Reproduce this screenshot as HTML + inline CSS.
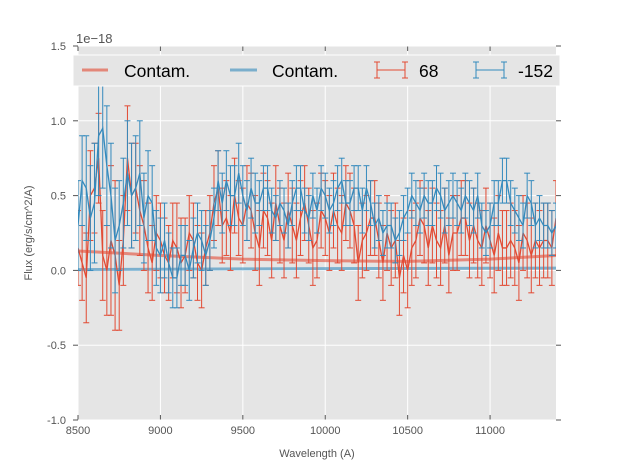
<!DOCTYPE html>
<html><head><meta charset="utf-8"><style>
body{margin:0;background:#fff;}
svg{display:block;font-family:"Liberation Sans","DejaVu Sans",sans-serif;}
</style></head><body>
<svg id="chart" width="617" height="467" viewBox="0 0 617 467"></svg>
<script>
const flux68=[0.15,0.05,-0.05,0.5,0.55,0.75,0.1,0.0,0.2,0.1,-0.1,0.2,0.75,0.5,0.55,0.4,0.3,0.15,0.05,0.25,0.2,0.1,0.05,0.2,0.15,0.05,0.1,0.25,0.2,0.05,0,0.15,0.25,0.45,0.55,0.3,0.35,0.25,0.5,0.35,0.3,0.45,0.4,0.25,0.15,0.4,0.35,0.2,0.45,0.3,0.2,0.4,0.3,0.2,0.35,0.45,0.3,0.15,0.2,0.4,0.35,0.25,0.4,0.3,0.25,0.45,0.4,0.3,0.05,0.2,0.25,0.35,0.35,0.2,0.05,0.25,0.15,0.2,-0.05,0.1,0,0.15,0.2,0.35,0.3,0.15,0.3,0.2,0.15,0.3,0.1,0.25,0.25,0.35,0.35,0.2,0.3,0.2,0.15,0.3,0.2,0.1,0.25,0.15,0.15,0.2,0.15,0.05,0.25,0.2,0.1,0.2,0.15,0.2,0.2,0.15,0.35];
const flux152=[0.3,0.6,0.55,0.35,0.45,0.9,0.95,0.7,0.5,0.2,0.3,0.45,0.65,0.5,0.55,0.65,0.35,0.5,0.45,0.15,0.1,0.2,0.05,-0.05,-0.05,0.1,0.1,0.0,0.15,0.25,0.2,0.1,0.2,0.35,0.6,0.45,0.6,0.5,0.5,0.65,0.5,0.4,0.55,0.45,0.45,0.55,0.55,0.4,0.35,0.45,0.4,0.3,0.45,0.55,0.55,0.4,0.35,0.5,0.4,0.55,0.5,0.4,0.45,0.55,0.6,0.45,0.45,0.55,0.55,0.4,0.55,0.45,0.3,0.35,0.25,0.3,0.3,0.2,0.25,0.35,0.4,0.5,0.45,0.4,0.5,0.45,0.45,0.55,0.5,0.4,0.45,0.5,0.45,0.4,0.5,0.45,0.4,0.5,0.3,0.25,0.3,0.45,0.45,0.6,0.6,0.45,0.4,0.35,0.3,0.5,0.45,0.3,0.35,0.3,0.3,0.25,0.3];
const err68=[0.25,0.3,0.3,0.3,0.5,0.3,0.35,0.3,0.3,0.25,0.25,0.25,0.3,0.25,0.25,0.25,0.25,0.25,0.25,0.25,0.25,0.25,0.25,0.25,0.25,0.25,0.25,0.25,0.25,0.25,0.25,0.25,0.25,0.25,0.25,0.25,0.25,0.25,0.25,0.25,0.25,0.25,0.25,0.25,0.25,0.25,0.25,0.25,0.25,0.25,0.25,0.25,0.25,0.25,0.25,0.25,0.25,0.25,0.25];
const err152=[0.3,0.35,0.4,0.4,0.35,0.3,0.35,0.35,0.3,0.25,0.25,0.2,0.2,0.2,0.2,0.2,0.2,0.2,0.2,0.2,0.2,0.2,0.15,0.15,0.15,0.15,0.15,0.15,0.15,0.15,0.15,0.15,0.15,0.15,0.15,0.15,0.15,0.15,0.15,0.15,0.15,0.15,0.15,0.15,0.15,0.15,0.15,0.15,0.15,0.15,0.15,0.15,0.15,0.15,0.15,0.15,0.15,0.15,0.15];
const contamWave=[8500,9000,9500,10000,10500,11000,11400];
const contam68=[0.13,0.1,0.075,0.065,0.06,0.075,0.1];
const contam152=[0.005,0.008,0.01,0.012,0.013,0.014,0.015];
const xTicks=[8500,9000,9500,10000,10500,11000];
const yTicks=[-1.0,-0.5,0.0,0.5,1.0,1.5];
const waveStart=8500, waveStep=25;

const L=78,R=556,T=46,B=420,X0=8500,X1=11400,Y0=-1,Y1=1.5;
const sx=v=>L+(v-X0)/(X1-X0)*(R-L);
const sy=v=>B-(v-Y0)/(Y1-Y0)*(B-T);
const svg=document.getElementById('chart');
const NS='http://www.w3.org/2000/svg';
function mk(tag,attrs,parent){const e=document.createElementNS(NS,tag);for(const k in attrs)e.setAttribute(k,attrs[k]);(parent||svg).appendChild(e);return e;}

const bg=mk('rect',{x:L,y:T,width:R-L,height:B-T,fill:'#e5e5e5'});


const clip=mk('clipPath',{id:'pc'});mk('rect',{x:L,y:T,width:R-L,height:B-T},clip);

xTicks.forEach(t=>{
  const g=mk('line',{x1:sx(t),x2:sx(t),y1:T,y2:B,stroke:'#fff','stroke-width':1});
  
  
  mk('line',{x1:sx(t),x2:sx(t),y1:B,y2:B-5,stroke:'#555'});
  mk('line',{x1:sx(t),x2:sx(t),y1:T,y2:T+5,stroke:'#555'});
  const tx=mk('text',{x:sx(t),y:B+14,'text-anchor':'middle','font-size':11,fill:'#555'});tx.textContent=t;
  
  
});
yTicks.forEach(t=>{
  const g=mk('line',{x1:L,x2:R,y1:sy(t),y2:sy(t),stroke:'#fff','stroke-width':1});
  
  
  mk('line',{x1:L-5,x2:L,y1:sy(t),y2:sy(t),stroke:'#555'});
  mk('line',{x1:R,x2:R+5,y1:sy(t),y2:sy(t),stroke:'#555'});
  const tx=mk('text',{x:L-12,y:sy(t)+4,'text-anchor':'end','font-size':11,fill:'#555'});tx.textContent=t.toFixed(1);
  
  
});

const gp=mk('g',{'clip-path':'url(#pc)'});
function line(xs,ys,color,w,op,name){
  const p=mk('polyline',{points:ys.map((y,i)=>sx(xs[i])+','+sy(y)).join(' '),fill:'none',stroke:color,'stroke-width':w,opacity:op},gp);
  
  
}
function errs(xs,ys,es,color,name){
  const g=mk('g',{stroke:color,'stroke-width':1},gp);
  
  
  ys.forEach((y,i)=>{
    const e=es[Math.min(es.length-1,Math.floor(i/2))];
    const X=sx(xs[i]),a=sy(y+e),b=sy(y-e);
    mk('line',{x1:X,x2:X,y1:a,y2:b},g);
    mk('line',{x1:X-3,x2:X+3,y1:a,y2:a},g);
    mk('line',{x1:X-3,x2:X+3,y1:b,y2:b},g);
  });
}
const w68=flux68.map((_,i)=>waveStart+waveStep*i);
const w152=flux152.map((_,i)=>waveStart+waveStep*i);
line(contamWave,contam68,'#e24a33',3,0.6,'contam-68-line');
line(contamWave,contam152,'#348abd',3,0.6,'contam-152-line');
errs(w68,flux68,err68,'#e24a33','errorbars-68');
line(w68,flux68,'#e24a33',1.3,1,'flux-68-line');
errs(w152,flux152,err152,'#348abd','errorbars-152');
line(w152,flux152,'#348abd',1.3,1,'flux-152-line');

const lg=mk('g',{});


mk('rect',{x:73,y:55,width:487,height:31,fill:'#e5e5e5',stroke:'#fff'},lg);
function ltext(x,s){const t=mk('text',{x:x,y:77,'font-size':17.5,fill:'#000'},lg);t.textContent=s;}
mk('line',{x1:82,x2:108,y1:70,y2:70,stroke:'#e24a33','stroke-width':3,opacity:0.6},lg);ltext(124,'Contam.');
mk('line',{x1:230,x2:257,y1:70,y2:70,stroke:'#348abd','stroke-width':3,opacity:0.6},lg);ltext(272,'Contam.');
function lerr(x1,x2,c){mk('line',{x1:x1,x2:x2,y1:70,y2:70,stroke:c},lg);mk('line',{x1:x1,x2:x1,y1:62,y2:78,stroke:c},lg);mk('line',{x1:x2,x2:x2,y1:62,y2:78,stroke:c},lg);[x1,x2].forEach(x=>{mk('line',{x1:x-3,x2:x+3,y1:62,y2:62,stroke:c},lg);mk('line',{x1:x-3,x2:x+3,y1:78,y2:78,stroke:c},lg);});}
lerr(377,405,'#e24a33');ltext(419,'68');
lerr(476,504,'#348abd');ltext(518,'-152');

const off=mk('text',{x:76,y:43,'font-size':13,fill:'#555'});off.textContent='1e\u221218';

const xl=mk('text',{x:(L+R)/2,y:457,'text-anchor':'middle','font-size':11,fill:'#555'});xl.textContent='Wavelength (A)';

const yl=mk('text',{x:0,y:0,'text-anchor':'middle','font-size':11,fill:'#555',transform:'translate(32,'+((T+B)/2)+') rotate(-90)'});yl.textContent='Flux (erg/s/cm^2/A)';

</script>
</body></html>
